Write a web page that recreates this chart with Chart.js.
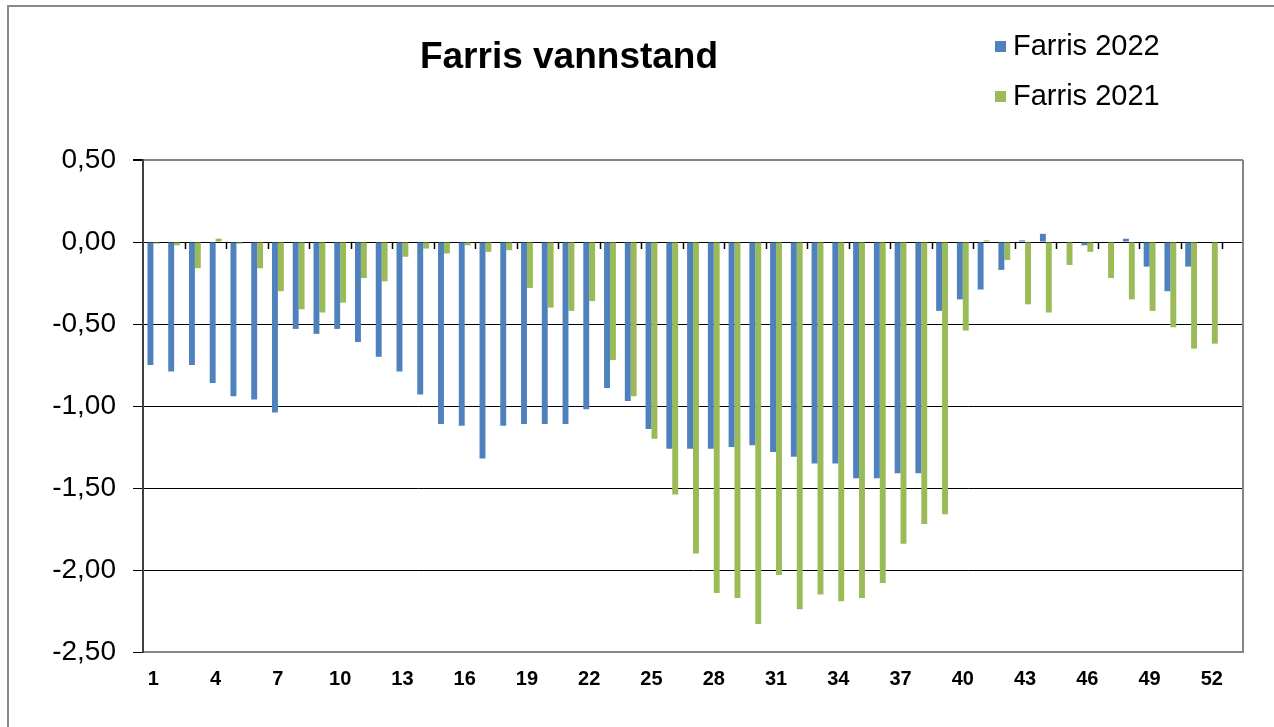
<!DOCTYPE html>
<html>
<head>
<meta charset="utf-8">
<script src="https://cdn.jsdelivr.net/npm/chart.js@4.4.0/dist/chart.umd.min.js"></script>
<style>
    html, body { margin: 0; padding: 0; background: #fff; }
    #wrap { position: relative; width: 1274px; height: 727px; overflow: hidden; font-family: "Liberation Sans", Arial, sans-serif; }
    #frame { position: absolute; left: 7px; top: 5px; width: 1300px; height: 760px; border-top: 2px solid #8a8a8a; border-left: 2px solid #8a8a8a; }
    #title { position: absolute; left: 569px; top: 35px; transform: translateX(-50%); font-size: 37px; font-weight: bold; white-space: nowrap; }
    .leg { position: absolute; left: 995px; font-size: 29px; white-space: nowrap; }
    .leg span { display: inline-block; width: 11px; height: 11px; margin-right: 7px; vertical-align: 3px; }
    canvas { position: absolute; left: 0; top: 0; }
</style>
</head>
<body>
<div id="wrap">
    <div id="frame"></div>
    <canvas id="chart" width="1274" height="727"></canvas>
    <div id="title">Farris vannstand</div>
    <div class="leg" style="top: 29px;"><span style="background:#4F81BD"></span>Farris 2022</div>
    <div class="leg" style="top: 79px;"><span style="background:#9BBB59"></span>Farris 2021</div>
</div>
<script>
// uker (uke 53 står tom)
const weeks = ['1','2','3','4','5','6','7','8','9','10','11','12','13','14','15','16','17','18',
    '19','20','21','22','23','24','25','26','27','28','29','30','31','32','33','34','35','36',
    '37','38','39','40','41','42','43','44','45','46','47','48','49','50','51','52','53'];

const farris2022 = [-0.75, -0.79, -0.75, -0.86, -0.94, -0.96, -1.04, -0.53, -0.56, -0.53,
    -0.61, -0.70, -0.79, -0.93, -1.11, -1.12, -1.32, -1.12, -1.11, -1.11,
    -1.11, -1.02, -0.89, -0.97, -1.14, -1.26, -1.26, -1.26, -1.25, -1.24,
    -1.28, -1.31, -1.35, -1.35, -1.44, -1.44, -1.41, -1.41, -0.42, -0.35,
    -0.29, -0.17, 0.01, 0.05, null, -0.02, null, 0.02, -0.15, -0.30,
    -0.15, null, null];

const farris2021 = [-0.01, -0.02, -0.16, 0.02, -0.01, -0.16, -0.30, -0.41, -0.43, -0.37,
    -0.22, -0.24, -0.09, -0.04, -0.07, -0.02, -0.06, -0.05, -0.28, -0.40,
    -0.42, -0.36, -0.72, -0.94, -1.20, -1.54, -1.90, -2.14, -2.17, -2.33,
    -2.03, -2.24, -2.15, -2.19, -2.17, -2.08, -1.84, -1.72, -1.66, -0.54,
    0.01, -0.11, -0.38, -0.43, -0.14, -0.06, -0.22, -0.35, -0.42, -0.52,
    -0.65, -0.62, null];

const yMin = -2.5;
const yMax = 0.5;
const yStep = 0.5;

// høyre ramme + små merker på nullinjen
const plotExtras = {
    id: 'plotExtras',
    afterDatasetsDraw(chart) {
        const ctx = chart.ctx;
        const area = chart.chartArea;
        const x = chart.scales.x;
        const y0 = chart.scales.y.getPixelForValue(0);
        const w = x.getPixelForValue(1) - x.getPixelForValue(0);
        ctx.save();
        ctx.strokeStyle = '#000';
        ctx.lineWidth = 1.5;
        for (let k = 2; k <= 52; k += 2) {
            const px = Math.round(area.left + k * w) + 0.5;
            ctx.beginPath();
            ctx.moveTo(px, y0);
            ctx.lineTo(px, y0 + 7);
            ctx.stroke();
        }
        ctx.strokeStyle = '#868686';
        ctx.lineWidth = 2;
        ctx.beginPath();
        ctx.moveTo(area.right, area.top);
        ctx.lineTo(area.right, area.bottom + 1);
        ctx.stroke();
        ctx.restore();
    }
};

new Chart(document.getElementById('chart'), {
    type: 'bar',
    data: {
        labels: weeks,
        datasets: [
            { label: 'Farris 2022', data: farris2022, backgroundColor: '#4F81BD', categoryPercentage: 0.57, barPercentage: 1.0 },
            { label: 'Farris 2021', data: farris2021, backgroundColor: '#9BBB59', categoryPercentage: 0.57, barPercentage: 1.0 }
        ]
    },
    options: {
        responsive: false,
        animation: false,
        devicePixelRatio: 1,
        layout: { padding: { top: 160, right: 31, left: 0, bottom: 0 } },
        plugins: {
            legend: { display: false },
            title: { display: false },
            tooltip: { enabled: false }
        },
        scales: {
            x: {
                grid: { display: false, drawTicks: false, tickLength: 0 },
                border: { color: '#868686', width: 2 },
                ticks: {
                    autoSkip: false,
                    maxRotation: 0,
                    padding: 15,
                    color: '#000',
                    font: { family: 'Liberation Sans, Arial, sans-serif', size: 20, weight: 'bold' },
                    callback: (v, i) => (i % 3 === 0 ? weeks[i] : null)
                },
                afterFit: (scale) => { scale.height = 75; }
            },
            y: {
                min: yMin,
                max: yMax,
                ticks: {
                    stepSize: yStep,
                    padding: 17,
                    color: '#000',
                    font: { family: 'Liberation Sans, Arial, sans-serif', size: 28 },
                    callback: (v) => v.toFixed(2).replace('.', ',')
                },
                grid: {
                    color: (c) => (c.tick && c.tick.value === yMax ? '#868686' : '#000'),
                    lineWidth: (c) => (c.tick && c.tick.value === yMax ? 2 : 1),
                    tickColor: '#000',
                    tickLength: 10
                },
                border: { color: '#404040', width: 2 },
                afterFit: (scale) => { scale.width = 143; }
            }
        }
    },
    plugins: [plotExtras]
});
</script>
</body>
</html>
